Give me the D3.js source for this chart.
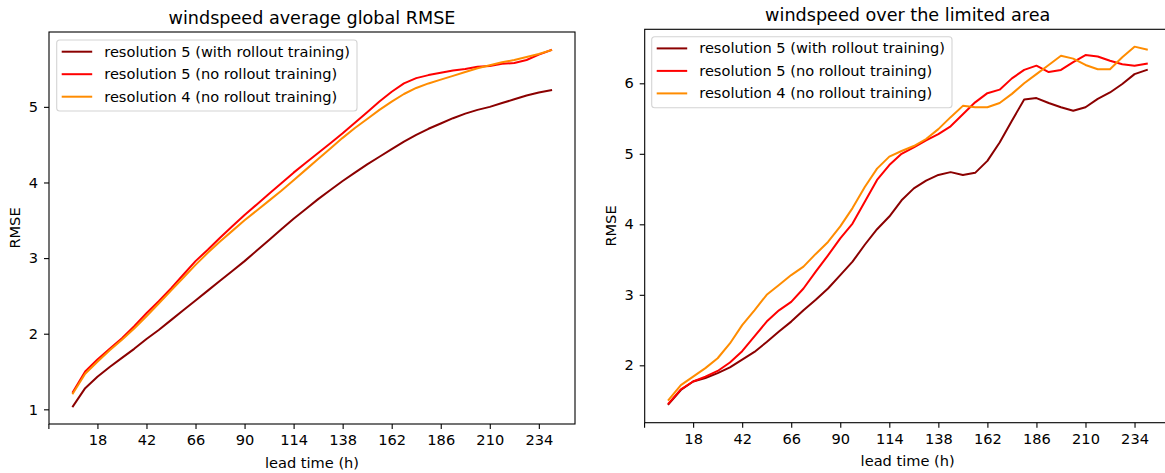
<!DOCTYPE html>
<html>
<head>
<meta charset="utf-8">
<script src="https://cdn.jsdelivr.net/npm/d3@7"></script>
<style>
  body { margin: 0; background: white; }
  text { font-family: "DejaVu Sans", sans-serif; fill: #000; }
</style>
</head>
<body>
<svg id="chart" width="1165" height="473"></svg>
<script>
// lead times (h)
var hours = [6, 12, 18, 24, 30, 36, 42, 48, 54, 60, 66, 72, 78, 84, 90, 96, 102, 108, 114, 120,
  126, 132, 138, 144, 150, 156, 162, 168, 174, 180, 186, 192, 198, 204, 210, 216, 222, 228, 234, 240];

var xTicks = [-6, 18, 42, 66, 90, 114, 138, 162, 186, 210, 234];
var yTicksGlobal = [1, 2, 3, 4, 5];
var yTicksArea = [2, 3, 4, 5, 6];

var seriesNames = [
  "resolution 5 (with rollout training)",
  "resolution 5 (no rollout training)",
  "resolution 4 (no rollout training)"
];
var seriesColors = ["darkred", "red", "darkorange"];

// global RMSE
var globalRes5Rollout = [1.04, 1.28, 1.43, 1.56, 1.68, 1.80, 1.93, 2.05, 2.18, 2.31, 2.44, 2.57, 2.70, 2.83, 2.96, 3.10, 3.24, 3.38, 3.52, 3.65,
  3.78, 3.90, 4.02, 4.13, 4.24, 4.34, 4.44, 4.54, 4.63, 4.71, 4.78, 4.85, 4.91, 4.96, 5.00, 5.05, 5.10, 5.15, 5.19, 5.22];
var globalRes5 = [1.23, 1.50, 1.66, 1.80, 1.94, 2.10, 2.27, 2.43, 2.60, 2.78, 2.96, 3.11, 3.27, 3.42, 3.57, 3.71, 3.85, 3.99, 4.13, 4.26,
  4.39, 4.52, 4.65, 4.79, 4.93, 5.07, 5.20, 5.31, 5.38, 5.42, 5.45, 5.48, 5.50, 5.53, 5.54, 5.57, 5.58, 5.62, 5.69, 5.75];
var globalRes4 = [1.21, 1.47, 1.63, 1.78, 1.92, 2.07, 2.23, 2.40, 2.57, 2.74, 2.91, 3.07, 3.22, 3.36, 3.50, 3.63, 3.76, 3.89, 4.03, 4.17,
  4.31, 4.45, 4.59, 4.72, 4.84, 4.96, 5.07, 5.17, 5.25, 5.31, 5.36, 5.41, 5.46, 5.51, 5.55, 5.59, 5.62, 5.66, 5.70, 5.75];

// limited area
var areaRes5Rollout = [1.45, 1.65, 1.77, 1.82, 1.89, 1.97, 2.08, 2.19, 2.33, 2.48, 2.62, 2.78, 2.93, 3.09, 3.28, 3.47, 3.71, 3.93, 4.11, 4.34,
  4.51, 4.62, 4.70, 4.74, 4.70, 4.73, 4.90, 5.16, 5.47, 5.77, 5.79, 5.72, 5.66, 5.61, 5.66, 5.78, 5.87, 5.99, 6.13, 6.19];
var areaRes5 = [1.46, 1.66, 1.77, 1.84, 1.92, 2.04, 2.20, 2.41, 2.62, 2.78, 2.90, 3.09, 3.33, 3.56, 3.80, 4.01, 4.32, 4.63, 4.84, 5.00,
  5.09, 5.19, 5.28, 5.39, 5.56, 5.73, 5.86, 5.91, 6.07, 6.19, 6.25, 6.16, 6.19, 6.30, 6.40, 6.38, 6.32, 6.27, 6.25, 6.28];
var areaRes4 = [1.51, 1.72, 1.84, 1.96, 2.10, 2.31, 2.57, 2.78, 3.00, 3.14, 3.28, 3.40, 3.58, 3.75, 3.97, 4.23, 4.53, 4.79, 4.96, 5.04,
  5.11, 5.21, 5.35, 5.52, 5.68, 5.66, 5.66, 5.72, 5.85, 6.00, 6.13, 6.26, 6.39, 6.35, 6.26, 6.20, 6.20, 6.37, 6.52, 6.48];

var svg = d3.select("#chart");
var fs = "14.6px";

function panel(opts) {
  var w = opts.right - opts.left,
    h = opts.bottom - opts.top;

  var g = svg.append("g")
    .attr("transform", "translate(" + opts.left + "," + opts.top + ")");

  var x = d3.scaleLinear().domain([-5.7, 251.7]).range([0, w]);
  var y = d3.scaleLinear().domain(opts.yDomain).range([h, 0]);

  // axes
  var xAxis = g.append("g")
    .attr("transform", "translate(0," + h + ")")
    .call(d3.axisBottom(x).tickValues(xTicks).tickSize(5).tickPadding(6).tickSizeOuter(0)
      .tickFormat(function (d) { return d < 0 ? "" : d; }));
  var yAxis = g.append("g")
    .call(d3.axisLeft(y).tickValues(opts.yTicks).tickSize(5).tickPadding(6).tickSizeOuter(0)
      .tickFormat(d3.format("d")));

  [xAxis, yAxis].forEach(function (a) {
    a.select(".domain").remove();
    a.selectAll(".tick line").attr("stroke", "#000").attr("stroke-width", 1.1);
    a.selectAll(".tick text").style("font-size", fs).style("font-family", "DejaVu Sans");
  });

  // lines
  var line = d3.line()
    .x(function (d, i) { return x(hours[i]); })
    .y(function (d) { return y(d); });

  opts.series.forEach(function (s, i) {
    g.append("path")
      .datum(s)
      .attr("fill", "none")
      .attr("stroke", seriesColors[i])
      .attr("stroke-width", 2)
      .attr("stroke-linejoin", "round")
      .attr("stroke-linecap", "square")
      .attr("d", line);
  });

  // frame
  g.append("rect")
    .attr("width", w).attr("height", h)
    .attr("fill", "none")
    .attr("stroke", "#000")
    .attr("stroke-width", 1.1);

  // title and labels
  g.append("text")
    .attr("x", w / 2).attr("y", -8.3)
    .attr("text-anchor", "middle")
    .style("font-size", "17.6px")
    .text(opts.title);

  g.append("text")
    .attr("x", w / 2).attr("y", h + 43.5)
    .attr("text-anchor", "middle")
    .style("font-size", fs)
    .text("lead time (h)");

  g.append("text")
    .attr("transform", "translate(" + (-29) + "," + (h / 2) + ") rotate(-90)")
    .attr("text-anchor", "middle")
    .style("font-size", fs)
    .text("RMSE");

  // legend
  var lg = g.append("g").attr("transform", "translate(" + opts.legendDx + "," + opts.legendDy + ")");
  var box = lg.append("rect")
    .attr("rx", 3).attr("ry", 3)
    .attr("height", 71)
    .attr("fill", "white").attr("fill-opacity", 0.8)
    .attr("stroke", "#d4d4d4").attr("stroke-width", 1.1);

  var maxLen = 0;
  seriesNames.forEach(function (name, i) {
    var yy = 11.7 + i * 22.5;
    lg.append("line")
      .attr("x1", 5).attr("x2", 35.5)
      .attr("y1", yy).attr("y2", yy)
      .attr("stroke", seriesColors[i])
      .attr("stroke-width", 2);
    var t = lg.append("text")
      .attr("x", 47.5).attr("y", yy + 5)
      .style("font-size", fs)
      .text(name);
    maxLen = Math.max(maxLen, t.node().getComputedTextLength());
  });
  box.attr("width", 47.5 + maxLen + 7);
}

panel({
  left: 49, right: 575, top: 32, bottom: 424,
  yDomain: [0.806, 5.99], yTicks: yTicksGlobal,
  title: "windspeed average global RMSE",
  series: [globalRes5Rollout, globalRes5, globalRes4],
  legendDx: 7.7, legendDy: 8
});

panel({
  left: 644.7, right: 1170.7, top: 29.3, bottom: 422.7,
  yDomain: [1.186, 6.766], yTicks: yTicksArea,
  title: "windspeed over the limited area",
  series: [areaRes5Rollout, areaRes5, areaRes4],
  legendDx: 7, legendDy: 7.4
});
</script>
</body>
</html>
